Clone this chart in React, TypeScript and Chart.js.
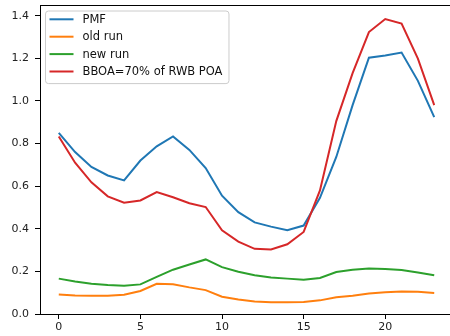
import React, { useEffect, useRef } from "react";
import { Chart, registerables } from "chart.js";

Chart.register(...registerables);

const hours = [0, 1, 2, 3, 4, 5, 6, 7, 8, 9, 10, 11, 12, 13, 14, 15, 16, 17, 18, 19, 20, 21, 22, 23];
const pmf = [0.85, 0.76, 0.69, 0.65, 0.627, 0.72, 0.787, 0.833, 0.77, 0.685, 0.555, 0.478, 0.43, 0.41, 0.393, 0.415, 0.545, 0.737, 0.98, 1.203, 1.213, 1.227, 1.094, 0.924];
const oldRun = [0.092, 0.087, 0.086, 0.086, 0.09, 0.108, 0.142, 0.14, 0.125, 0.112, 0.081, 0.068, 0.059, 0.055, 0.055, 0.056, 0.064, 0.079, 0.086, 0.096, 0.102, 0.106, 0.104, 0.099];
const newRun = [0.166, 0.152, 0.142, 0.136, 0.133, 0.139, 0.174, 0.208, 0.232, 0.256, 0.22, 0.198, 0.182, 0.171, 0.166, 0.161, 0.169, 0.197, 0.208, 0.213, 0.211, 0.206, 0.195, 0.182];
const bboa = [0.833, 0.71, 0.618, 0.552, 0.522, 0.533, 0.572, 0.548, 0.52, 0.502, 0.393, 0.34, 0.306, 0.303, 0.327, 0.385, 0.58, 0.905, 1.13, 1.323, 1.384, 1.363, 1.198, 0.98];
const seriesNames = ["PMF", "old run", "new run", "BBOA=70% of RWB POA"];
const seriesColors = ["#1f77b4", "#ff7f0e", "#2ca02c", "#d62728"];
const xTicks = [0, 5, 10, 15, 20];
const yTicks = [0, 0.2, 0.4, 0.6, 0.8, 1.0, 1.2, 1.4];

const FONT = "DejaVu Sans";

const frameAndLegend = {
  id: "frameAndLegend",
  afterDraw(chart: any) {
    const ctx = chart.ctx;
    const a = chart.chartArea;
    ctx.save();
    // top and right spines
    ctx.strokeStyle = "#000";
    ctx.lineWidth = 1;
    ctx.beginPath();
    ctx.moveTo(a.left, a.top + 0.5);
    ctx.lineTo(a.right, a.top + 0.5);
    ctx.moveTo(a.right - 0.5, a.top);
    ctx.lineTo(a.right - 0.5, a.bottom);
    ctx.stroke();

    // legend
    ctx.font = `11.5px "${FONT}"`;
    let maxW = 0;
    seriesNames.forEach((n) => {
      maxW = Math.max(maxW, ctx.measureText(n).width);
    });
    const bx = a.left + 5.5;
    const by = a.top + 6;
    const textX = bx + 37;
    const bw = textX - bx + maxW + 6.5;
    const rowH = 17.4;
    const bh = rowH * seriesNames.length + 3;
    const r = 3;
    ctx.beginPath();
    ctx.moveTo(bx + r, by);
    ctx.lineTo(bx + bw - r, by);
    ctx.arcTo(bx + bw, by, bx + bw, by + r, r);
    ctx.lineTo(bx + bw, by + bh - r);
    ctx.arcTo(bx + bw, by + bh, bx + bw - r, by + bh, r);
    ctx.lineTo(bx + r, by + bh);
    ctx.arcTo(bx, by + bh, bx, by + bh - r, r);
    ctx.lineTo(bx, by + r);
    ctx.arcTo(bx, by, bx + r, by, r);
    ctx.closePath();
    ctx.fillStyle = "rgba(255,255,255,0.8)";
    ctx.fill();
    ctx.strokeStyle = "#cccccc";
    ctx.lineWidth = 1;
    ctx.stroke();

    seriesNames.forEach((n, i) => {
      const cy = by + 8.3 + i * rowH;
      ctx.strokeStyle = seriesColors[i];
      ctx.lineWidth = 2;
      ctx.beginPath();
      ctx.moveTo(bx + 4, cy);
      ctx.lineTo(bx + 28, cy);
      ctx.stroke();
      ctx.fillStyle = "#111";
      ctx.textBaseline = "middle";
      ctx.textAlign = "left";
      ctx.fillText(n, textX, cy + 0.5);
    });
    ctx.restore();
  },
};

export default function App() {
  const ref = useRef<HTMLCanvasElement>(null);
  useEffect(() => {
    if (!ref.current) return;
    const all = [pmf, oldRun, newRun, bboa];
    const chart = new Chart(ref.current, {
      type: "line",
      data: {
        datasets: all.map((arr, i) => ({
          label: seriesNames[i],
          data: arr.map((v, j) => ({ x: hours[j], y: v })),
          borderColor: seriesColors[i],
          backgroundColor: seriesColors[i],
          borderWidth: 2,
          pointRadius: 0,
          tension: 0,
          fill: false,
          order: 4 - i,
        })),
      },
      options: {
        responsive: false,
        animation: false,
        devicePixelRatio: 1,
        layout: { padding: { top: 5, right: 7, left: 0, bottom: 0 } },
        plugins: { legend: { display: false }, tooltip: { enabled: false } },
        scales: {
          x: {
            type: "linear",
            min: -1.15,
            max: 24.15,
            afterBuildTicks: (s: any) => {
              s.ticks = xTicks.map((v) => ({ value: v }));
            },
            afterFit: (s: any) => {
              s.height = 22;
              s.paddingLeft = 0;
              s.paddingRight = 0;
              s.paddingTop = 0;
              s.paddingBottom = 0;
            },
            grid: { drawOnChartArea: false, tickLength: 5, color: "#000", lineWidth: 1 },
            border: { display: true, color: "#000", width: 1 },
            ticks: {
              color: "#222",
              font: { family: FONT, size: 11 },
              padding: 2,
              maxRotation: 0,
              callback: (v: any) => String(v),
            },
          },
          y: {
            type: "linear",
            min: 0,
            max: 1.45,
            afterBuildTicks: (s: any) => {
              s.ticks = yTicks.map((v) => ({ value: v }));
            },
            afterFit: (s: any) => {
              s.width = 40;
              s.paddingLeft = 0;
              s.paddingRight = 0;
              s.paddingTop = 0;
              s.paddingBottom = 0;
            },
            grid: { drawOnChartArea: false, tickLength: 5, color: "#000", lineWidth: 1 },
            border: { display: true, color: "#000", width: 1 },
            ticks: {
              color: "#222",
              font: { family: FONT, size: 11 },
              padding: 6,
              callback: (v: any) => Number(v).toFixed(1),
            },
          },
        },
      },
      plugins: [frameAndLegend],
    });
    return () => chart.destroy();
  }, []);
  return (
    <div style={{ position: "fixed", left: 0, top: 0, width: 450, height: 336, overflow: "hidden", background: "#fff" }}>
      <canvas ref={ref} width={460} height={336} style={{ display: "block" }} />
    </div>
  );
}
